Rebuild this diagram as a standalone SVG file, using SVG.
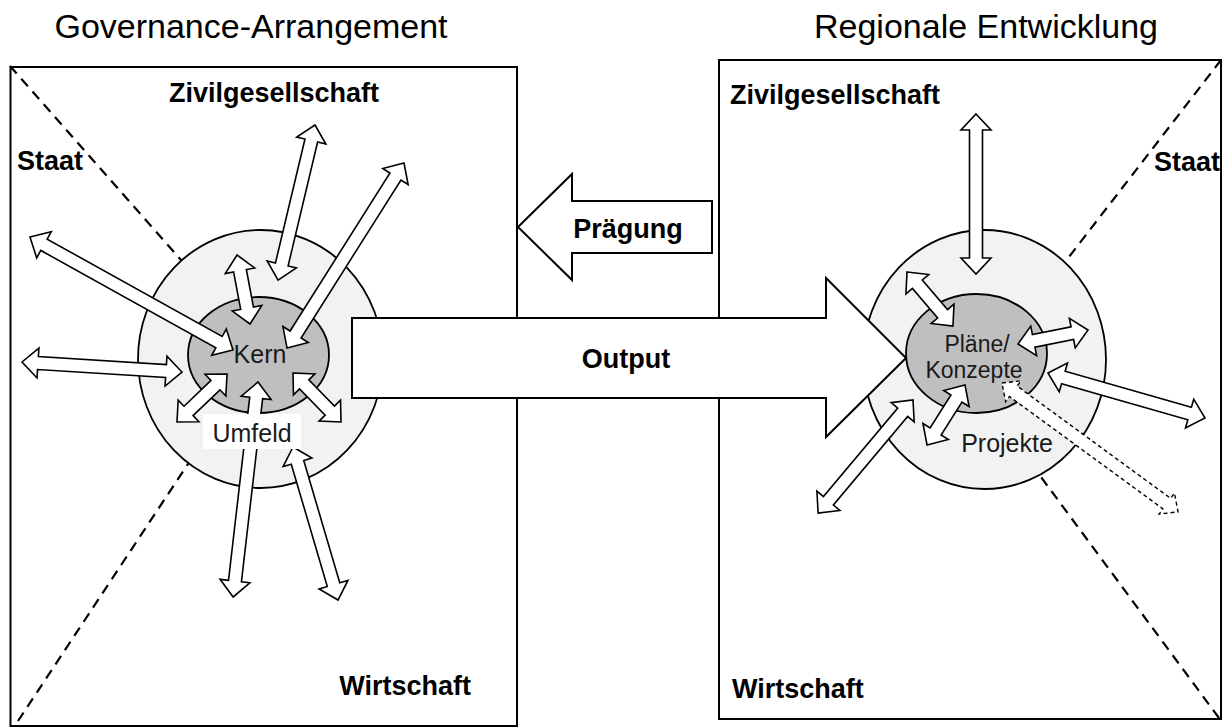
<svg xmlns="http://www.w3.org/2000/svg" width="1227" height="727" viewBox="0 0 1227 727">
<style>
.box{fill:#fff;stroke:#000;stroke-width:2}
.dash{fill:none;stroke:#000;stroke-width:2.2;stroke-dasharray:10,7}
.outer{fill:#f2f2f2;stroke:#000;stroke-width:1.8}
.inner{fill:#bfbfbf;stroke:#000;stroke-width:1.8}
.big{fill:#fff;stroke:#000;stroke-width:2;stroke-linejoin:miter}
.arr{fill:#fff;stroke:#000;stroke-width:1.6;stroke-linejoin:miter}
.arrd{fill:#fff;stroke:#000;stroke-width:1.4;stroke-dasharray:4,3}
.title{font-family:"Liberation Sans",Arial,sans-serif;font-size:34px;fill:#000;text-anchor:middle}
.lbl{font-family:"Liberation Sans",Arial,sans-serif;font-size:27px;font-weight:bold;fill:#000}
.in{font-family:"Liberation Sans",Arial,sans-serif;font-size:25px;fill:#1a1a1a;text-anchor:middle}
.in2{font-family:"Liberation Sans",Arial,sans-serif;font-size:23px;fill:#1a1a1a;text-anchor:middle}
</style>
<rect width="1227" height="727" fill="#fff"/>
<text class="title" x="251" y="38">Governance-Arrangement</text>
<text class="title" x="986" y="38">Regionale Entwicklung</text>

<g id="box-left">
<rect class="box" x="10.5" y="67" width="506.5" height="659"/>
<line class="dash" x1="10" y1="66" x2="262" y2="352"/>
<line class="dash" x1="18" y1="721" x2="262" y2="352"/>
<text class="lbl" x="274" y="102" text-anchor="middle">Zivilgesellschaft</text>
<text class="lbl" x="17" y="170">Staat</text>
<text class="lbl" x="471" y="695" text-anchor="end">Wirtschaft</text>
</g>

<g id="box-right">
<rect class="box" x="719" y="60" width="502" height="659"/>
<line class="dash" x1="1221" y1="60" x2="984" y2="367"/>
<line class="dash" x1="1219" y1="718" x2="990" y2="408"/>
<text class="lbl" x="730" y="104">Zivilgesellschaft</text>
<text class="lbl" x="1220" y="171" text-anchor="end">Staat</text>
<text class="lbl" x="732" y="698">Wirtschaft</text>
</g>

<g id="umfeld-left"><ellipse class="outer" cx="260.5" cy="359" rx="122.5" ry="129"/></g>
<g id="projekte-right"><ellipse class="outer" cx="984.5" cy="359.5" rx="121.5" ry="129.5"/></g>

<g id="output">
<polygon class="big" points="352,318 826,318 826,278 906,358 826,437 826,398 352,398"/>
<text class="lbl" x="626" y="368" text-anchor="middle">Output</text>
</g>
<g id="praegung">
<polygon class="big" points="518,227 572,174 572,201 712,201 712,253 572,253 572,280"/>
<text class="lbl" x="628" y="238" text-anchor="middle">Prägung</text>
</g>

<g id="kern"><ellipse class="inner" cx="258.5" cy="355" rx="70.5" ry="58"/></g>
<g id="plaene"><ellipse class="inner" cx="976.5" cy="353.5" rx="70.5" ry="59.5"/></g>

<g id="connectors">
<path class="arr" transform="translate(30,237) rotate(29.1)" d="M0,0 L16,-15 L16,-6.5 L216.3,-6.5 L216.3,-15 L232.3,0 L216.3,15 L216.3,6.5 L16,6.5 L16,15 Z"/>
<path class="arr" transform="translate(404,163) rotate(122.3)" d="M0,0 L16,-15 L16,-6.5 L202.9,-6.5 L202.9,-15 L218.9,0 L202.9,15 L202.9,6.5 L16,6.5 L16,15 Z"/>
<path class="arr" transform="translate(315,125) rotate(103.4)" d="M0,0 L16,-15 L16,-6.5 L143.4,-6.5 L143.4,-15 L159.4,0 L143.4,15 L143.4,6.5 L16,6.5 L16,15 Z"/>
<path class="arr" transform="translate(237,255) rotate(79.3)" d="M0,0 L16,-15 L16,-6.5 L54.2,-6.5 L54.2,-15 L70.2,0 L54.2,15 L54.2,6.5 L16,6.5 L16,15 Z"/>
<path class="arr" transform="translate(22,362) rotate(3.6)" d="M0,0 L16,-15 L16,-6.5 L144.3,-6.5 L144.3,-15 L160.3,0 L144.3,15 L144.3,6.5 L16,6.5 L16,15 Z"/>
<path class="arr" transform="translate(177,422) rotate(-43.8)" d="M0,0 L16,-15 L16,-6.5 L53.3,-6.5 L53.3,-15 L69.3,0 L53.3,15 L53.3,6.5 L16,6.5 L16,15 Z"/>
<path class="arr" transform="translate(293,373) rotate(45.6)" d="M0,0 L16,-15 L16,-6.5 L52.6,-6.5 L52.6,-15 L68.6,0 L52.6,15 L52.6,6.5 L16,6.5 L16,15 Z"/>
<path class="arr" transform="translate(258,382) rotate(96.6)" d="M0,0 L16,-15 L16,-6.5 L200.4,-6.5 L200.4,-15 L216.4,0 L200.4,15 L200.4,6.5 L16,6.5 L16,15 Z"/>
<path class="arr" transform="translate(293,447) rotate(73.6)" d="M0,0 L16,-15 L16,-6.5 L143.5,-6.5 L143.5,-15 L159.5,0 L143.5,15 L143.5,6.5 L16,6.5 L16,15 Z"/>

<path class="arr" transform="translate(976,114) rotate(90)" d="M0,0 L16,-15 L16,-6.5 L144,-6.5 L144,-15 L160,0 L144,15 L144,6.5 L16,6.5 L16,15 Z"/>
<path class="arr" transform="translate(907,272) rotate(49.6)" d="M0,0 L16,-15 L16,-6.5 L54.9,-6.5 L54.9,-15 L70.9,0 L54.9,15 L54.9,6.5 L16,6.5 L16,15 Z"/>
<path class="arr" transform="translate(1018,344) rotate(-11.3)" d="M0,0 L16,-15 L16,-6.5 L55.4,-6.5 L55.4,-15 L71.4,0 L55.4,15 L55.4,6.5 L16,6.5 L16,15 Z"/>
<path class="arr" transform="translate(1048,373) rotate(16)" d="M0,0 L16,-15 L16,-6.5 L147.3,-6.5 L147.3,-15 L163.3,0 L147.3,15 L147.3,6.5 L16,6.5 L16,15 Z"/>
<path class="arr" transform="translate(913,400) rotate(130)" d="M0,0 L16,-15 L16,-6.5 L131.6,-6.5 L131.6,-15 L147.6,0 L131.6,15 L131.6,6.5 L16,6.5 L16,15 Z"/>
<path class="arr" transform="translate(965,385) rotate(122.3)" d="M0,0 L16,-15 L16,-6.5 L55,-6.5 L55,-15 L71,0 L55,15 L55,6.5 L16,6.5 L16,15 Z"/>
<path class="arrd" transform="translate(1002,383) rotate(36.2)" d="M0,0 L14,-13 L14,-6.5 L204.2,-6.5 L204.2,-13 L218.2,0 L204.2,13 L204.2,6.5 L14,6.5 L14,13 Z"/>
</g>

<g id="labels">
<text class="in" x="260" y="363">Kern</text>
<rect x="203" y="414" width="98" height="35" fill="#fff"/>
<text class="in" x="252" y="442">Umfeld</text>
<text class="in2" x="977" y="352">Pläne/</text>
<text class="in2" x="974" y="378">Konzepte</text>
<text class="in" x="1007" y="452">Projekte</text>
</g>
</svg>
